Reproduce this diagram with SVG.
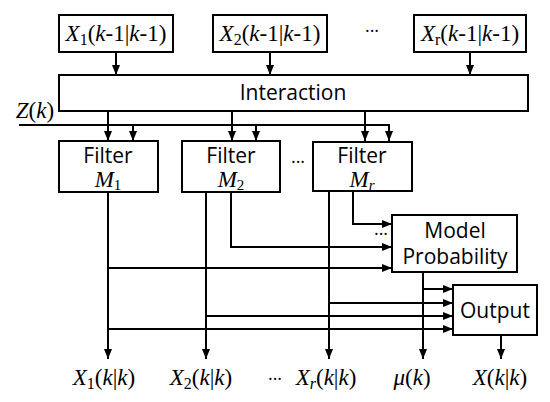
<svg xmlns="http://www.w3.org/2000/svg" width="550" height="402" viewBox="0 0 550 402">
<style>
.box{fill:#fff;stroke:#000;stroke-width:2}
.ln{fill:none;stroke:#000;stroke-width:2}
.sans{font-family:"Open Sans","Noto Sans",sans-serif;font-size:21px;fill:#000;text-anchor:middle}
.math{font-family:"Liberation Serif","Times New Roman",serif;font-size:23px;fill:#000;text-anchor:middle}
.it{font-style:italic}
.dots{font-family:"Open Sans",sans-serif;font-size:18px;fill:#000;text-anchor:middle}
</style>
<defs>
<marker id="ah" markerUnits="userSpaceOnUse" markerWidth="10" markerHeight="10" viewBox="0 0 10 10" refX="10" refY="5" orient="auto">
<path d="M0,1 L10,5 L0,9 Z" fill="#000"/>
</marker>
</defs>
<g id="connectors">
<path class="ln" d="M116,52 V75" marker-end="url(#ah)"/>
<path class="ln" d="M270,52 V75" marker-end="url(#ah)"/>
<path class="ln" d="M470,52 V75" marker-end="url(#ah)"/>
<path class="ln" d="M108,111 V141" marker-end="url(#ah)"/>
<path class="ln" d="M232,111 V141" marker-end="url(#ah)"/>
<path class="ln" d="M365,111 V141" marker-end="url(#ah)"/>
<path class="ln" d="M19,125 H389 V141" marker-end="url(#ah)"/>
<path class="ln" d="M133,125 V141" marker-end="url(#ah)"/>
<path class="ln" d="M256,125 V141" marker-end="url(#ah)"/>
<path class="ln" d="M108,192 V359" marker-end="url(#ah)"/>
<path class="ln" d="M206,192 V359" marker-end="url(#ah)"/>
<path class="ln" d="M329,191 V359" marker-end="url(#ah)"/>
<path class="ln" d="M231,192 V247 H392" marker-end="url(#ah)"/>
<path class="ln" d="M353,191 V224 H392" marker-end="url(#ah)"/>
<path class="ln" d="M108,268 H392" marker-end="url(#ah)"/>
<path class="ln" d="M423,272 V359" marker-end="url(#ah)"/>
<path class="ln" d="M423,289 H453" marker-end="url(#ah)"/>
<path class="ln" d="M329,303 H453" marker-end="url(#ah)"/>
<path class="ln" d="M206,316 H453" marker-end="url(#ah)"/>
<path class="ln" d="M108,329 H453" marker-end="url(#ah)"/>
<path class="ln" d="M501,335 V359" marker-end="url(#ah)"/>
</g>
<g id="x1prev">
<rect class="box" x="59" y="15" width="114" height="37"/>
<text class="math" x="116" y="41"><tspan class="it">X</tspan><tspan font-size="16" dy="4">1</tspan><tspan dy="-4">(</tspan><tspan class="it">k</tspan>-1|<tspan class="it">k</tspan>-1)</text>
</g>
<g id="x2prev">
<rect class="box" x="213" y="15" width="114" height="37"/>
<text class="math" x="270" y="41"><tspan class="it">X</tspan><tspan font-size="16" dy="4">2</tspan><tspan dy="-4">(</tspan><tspan class="it">k</tspan>-1|<tspan class="it">k</tspan>-1)</text>
</g>
<text class="dots" x="372" y="37">···</text>
<g id="xrprev">
<rect class="box" x="414" y="15" width="112" height="37"/>
<text class="math" x="470" y="41"><tspan class="it">X</tspan><tspan font-size="16" dy="4">r</tspan><tspan dy="-4">(</tspan><tspan class="it">k</tspan>-1|<tspan class="it">k</tspan>-1)</text>
</g>
<g id="interaction">
<rect class="box" x="59" y="75" width="469" height="36"/>
<text class="sans" x="293" y="100">Interaction</text>
</g>
<text class="math" x="35" y="118"><tspan class="it">Z</tspan>(<tspan class="it">k</tspan>)</text>
<g id="filter1">
<rect class="box" x="59" y="141" width="99" height="51"/>
<text class="sans" x="108" y="163">Filter</text>
<text class="math" x="108" y="187" font-size="21"><tspan class="it">M</tspan><tspan font-size="15" dy="3">1</tspan></text>
</g>
<g id="filter2">
<rect class="box" x="182" y="141" width="98" height="51"/>
<text class="sans" x="231" y="163">Filter</text>
<text class="math" x="231" y="187" font-size="21"><tspan class="it">M</tspan><tspan font-size="15" dy="3">2</tspan></text>
</g>
<text class="dots" x="298" y="168">···</text>
<g id="filterr">
<rect class="box" x="313" y="142" width="99" height="49"/>
<text class="sans" x="362" y="163">Filter</text>
<text class="math" x="362" y="187" font-size="21"><tspan class="it">M</tspan><tspan class="it" font-size="15" dy="3">r</tspan></text>
</g>
<text class="dots" x="381" y="240">···</text>
<g id="modelprob">
<rect class="box" x="392" y="215" width="125" height="57"/>
<text class="sans" x="455" y="238">Model</text>
<text class="sans" x="455" y="264">Probability</text>
</g>
<g id="output">
<rect class="box" x="453" y="285" width="84" height="50"/>
<text class="sans" x="495" y="318">Output</text>
</g>
<g id="labels">
<text class="math" x="104" y="385"><tspan class="it">X</tspan><tspan font-size="16" dy="4">1</tspan><tspan dy="-4">(</tspan><tspan class="it">k</tspan>|<tspan class="it">k</tspan>)</text>
<text class="math" x="201" y="385"><tspan class="it">X</tspan><tspan font-size="16" dy="4">2</tspan><tspan dy="-4">(</tspan><tspan class="it">k</tspan>|<tspan class="it">k</tspan>)</text>
<text class="dots" x="275" y="385">···</text>
<text class="math" x="326" y="385"><tspan class="it">X</tspan><tspan class="it" font-size="16" dy="4">r</tspan><tspan dy="-4">(</tspan><tspan class="it">k</tspan>|<tspan class="it">k</tspan>)</text>
<text class="math" x="412" y="385"><tspan class="it">μ</tspan>(<tspan class="it">k</tspan>)</text>
<text class="math" x="500" y="385"><tspan class="it">X</tspan>(<tspan class="it">k</tspan>|<tspan class="it">k</tspan>)</text>
</g>
</svg>
